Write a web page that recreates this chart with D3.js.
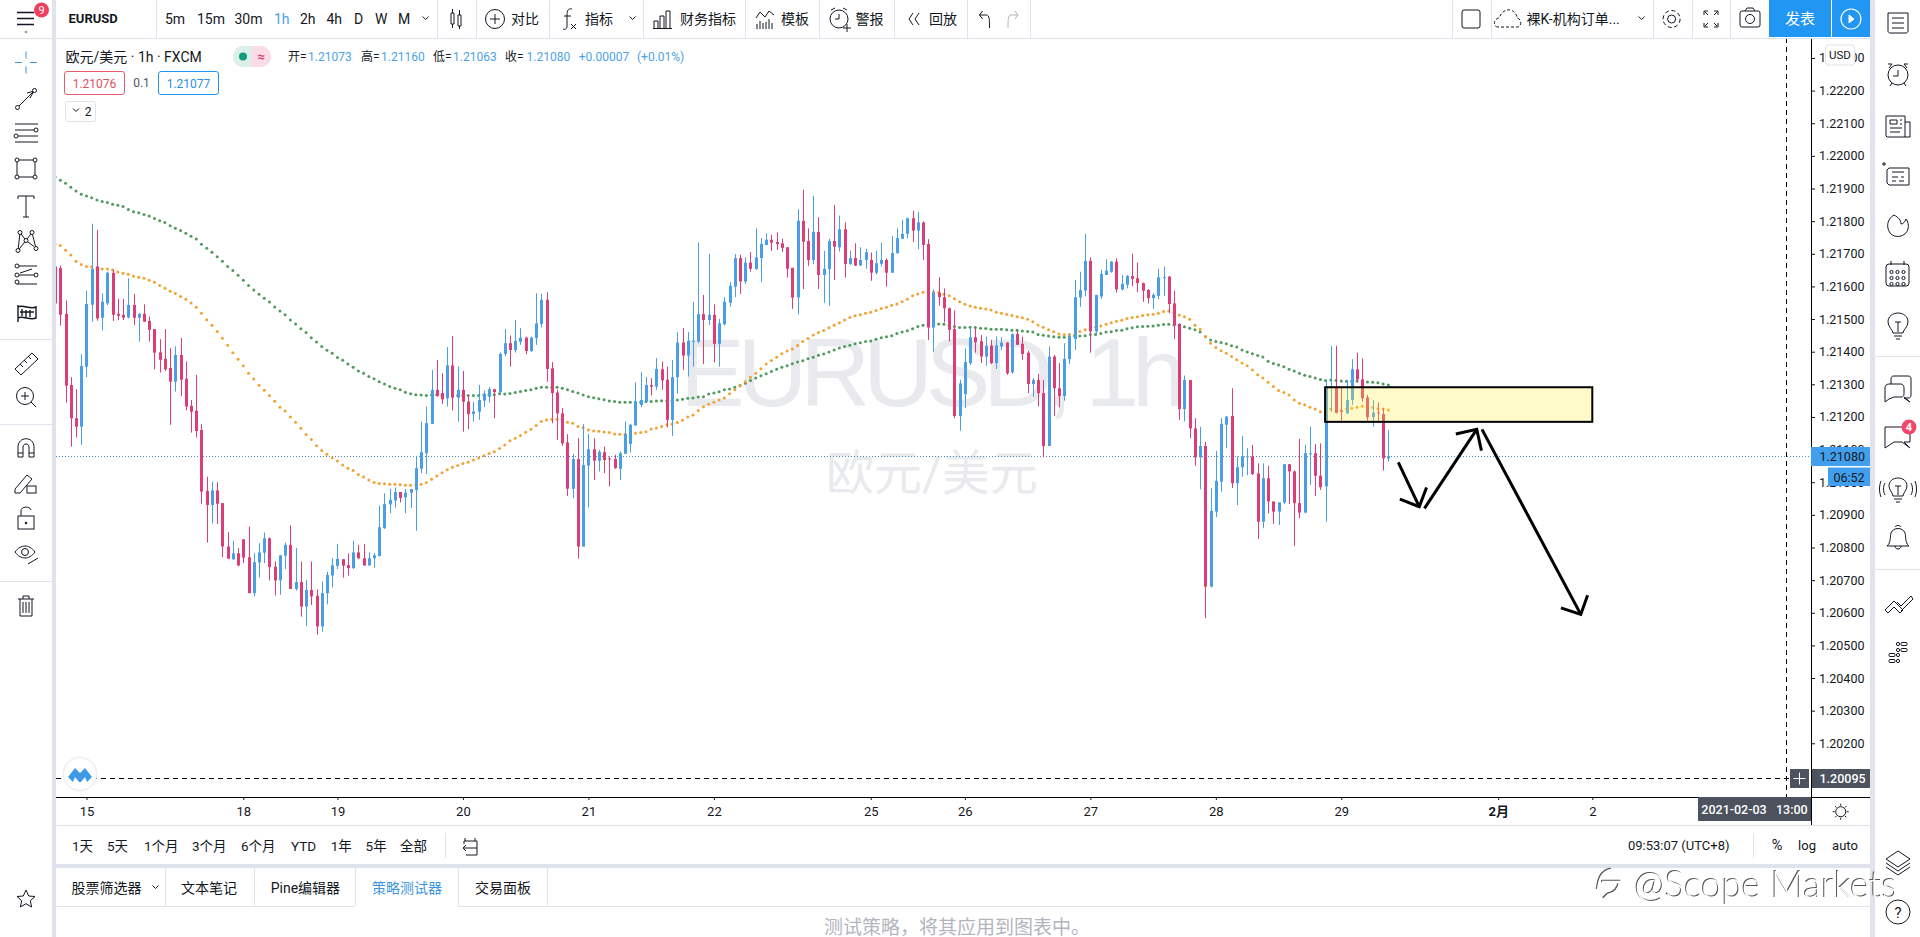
<!DOCTYPE html>
<html><head><meta charset="utf-8"><title>EURUSD</title>
<script src="https://cdnjs.cloudflare.com/ajax/libs/d3/7.8.5/d3.min.js"></script>
<style>html,body{margin:0;padding:0;background:#fff;overflow:hidden}svg{display:block}
text{font-family:Roboto,"Noto Sans CJK SC",sans-serif}</style></head><body><svg id="c" width="1920" height="937"></svg>
<script>
// ---- chart data, in 1e-5 price units, one value per hourly bar ----
const highs=[121666,121663,121557,121322,121285,121392,121587,121792,121773,121579,
121645,121651,121562,121562,121625,121577,121518,121545,121508,121469,
121438,121469,121411,121416,121442,121370,121252,121329,121178,121017,
121002,121000,120936,120847,120820,120798,120825,120864,120782,120813,
120846,120831,120757,120777,120815,120868,120798,120757,120701,120757,
120672,120696,120726,120767,120811,120765,120782,120820,120808,120811,
120785,120784,120928,120966,120980,120984,120970,120979,120979,121081,
121186,121232,121344,121375,121334,121414,121448,121354,121341,121268,
121247,121298,121281,121291,121286,121398,121469,121449,121497,121472,
121446,121446,121579,121577,121582,121368,121283,121227,121147,121087,
121135,121178,121148,121135,121099,121109,121079,121084,121094,121186,
121179,121306,121337,121322,121319,121380,121370,121354,121375,121460,
121472,121460,121552,121734,121574,121700,121545,121500,121567,121613,
121699,121697,121689,121705,121778,121748,121763,121758,121766,121746,
121720,121657,121836,121896,121778,121877,121812,121709,121746,121850,
121817,121796,121709,121732,121720,121715,121704,121709,121734,121686,
121755,121778,121804,121811,121832,121829,121799,121745,121591,121628,
121594,121535,121526,121314,121410,121477,121475,121451,121446,121436,
121446,121444,121429,121456,121465,121446,121403,121319,121332,121313,
121416,121390,121365,121426,121456,121620,121645,121761,121689,121574,
121651,121683,121678,121686,121635,121635,121700,121673,121612,121592,
121579,121654,121661,121632,121587,121487,121327,121313,121196,121170,
121124,120982,121096,121196,121203,121288,121079,121142,121104,121114,
121058,121058,121050,120941,120939,121055,121056,121036,121133,121114,
121170,121117,121119,121308,121418,121418,121293,121313,121377,121397,
121379,121267,121252,121244,121227,121160];
const lows=[121528,121480,121244,121109,121137,121114,121322,121492,121495,121465,
121543,121494,121497,121497,121502,121482,121431,121491,121431,121346,
121336,121341,121176,121278,121264,121220,121152,121137,120934,120815,
120874,120872,120770,120764,120762,120742,120752,120660,120650,120708,
120752,120699,120653,120655,120734,120672,120668,120588,120560,120624,
120533,120542,120626,120677,120734,120708,120714,120734,120764,120744,
120744,120738,120772,120857,120905,120922,120938,120905,120921,120851,
121028,121025,121178,121262,121240,121232,121220,121186,121155,121162,
121186,121191,121230,121244,121196,121268,121387,121354,121397,121421,
121392,121399,121421,121474,121308,121181,121130,121111,120958,120951,
120766,120803,120923,121007,121033,121028,120987,121041,121007,121087,
121091,121173,121230,121242,121266,121283,121283,121168,121142,121271,
121344,121324,121354,121426,121362,121482,121367,121354,121480,121538,
121567,121577,121608,121645,121651,121613,121726,121709,121712,121706,
121627,121531,121514,121592,121663,121668,121592,121550,121541,121620,
121707,121627,121666,121663,121663,121654,121617,121637,121661,121599,
121642,121700,121745,121747,121736,121714,121681,121436,121400,121541,
121490,121431,121196,121158,121227,121359,121397,121365,121357,121362,
121347,121405,121329,121332,121421,121375,121273,121262,121232,121076,
121111,121203,121230,121250,121362,121405,121538,121569,121397,121451,
121562,121635,121642,121581,121587,121594,121601,121582,121553,121548,
121531,121561,121571,121518,121438,121191,121186,121135,121050,120978,
120583,120678,120893,120971,121104,120982,120930,121017,121022,121022,
120826,120859,120905,120872,120869,120933,120933,120805,120890,120905,
120992,120958,120976,120879,121216,121211,121188,121209,121237,121305,
121247,121188,121170,121186,121036,121063];
const opens=[121661,121656,121516,121298,121196,121170,121354,121544,121661,121504,
121548,121642,121516,121513,121505,121543,121504,121516,121494,121469,
121398,121378,121350,121308,121390,121317,121234,121219,121160,120973,
120930,120975,120936,120803,120764,120782,120825,120770,120660,120754,
120784,120828,120741,120699,120775,120808,120673,120694,120619,120670,
120652,120558,120660,120714,120744,120764,120746,120737,120785,120767,
120745,120767,120774,120859,120932,120944,120970,120954,120968,120976,
121041,121089,121179,121283,121273,121257,121358,121259,121283,121247,
121209,121216,121250,121262,121285,121276,121393,121426,121405,121430,
121443,121402,121441,121485,121559,121349,121275,121211,121122,120980,
121071,120803,121051,121101,121066,121092,121073,121071,121041,121087,
121117,121174,121237,121247,121298,121293,121346,121314,121191,121322,
121428,121388,121430,121431,121515,121497,121513,121424,121484,121550,
121599,121687,121615,121673,121653,121687,121727,121743,121736,121732,
121720,121657,121566,121801,121739,121681,121767,121635,121653,121739,
121720,121775,121669,121687,121664,121681,121681,121642,121669,121681,
121642,121702,121746,121761,121809,121771,121796,121730,121474,121581,
121567,121533,121469,121203,121270,121365,121444,121432,121385,121419,
121365,121416,121428,121337,121454,121424,121397,121301,121313,121273,
121111,121385,121288,121264,121377,121439,121566,121587,121678,121462,
121569,121635,121645,121676,121591,121605,121632,121625,121610,121589,
121564,121571,121626,121630,121548,121485,121224,121313,121165,121076,
121111,120680,120910,121002,121176,121203,120997,121046,121076,121079,
121027,120879,121012,120941,120910,120938,121055,121033,120936,120907,
121087,121089,121020,120987,121290,121293,121219,121211,121252,121346,
121315,121260,121199,121214,121209,121073];
const closes=[121548,121513,121296,121196,121170,121356,121546,121654,121502,121553,
121642,121513,121510,121504,121543,121504,121516,121492,121467,121397,
121375,121346,121308,121390,121314,121232,121216,121157,120971,120930,
120975,120934,120803,120766,120782,120745,120769,120660,120755,120785,
120828,120740,120699,120776,120808,120673,120694,120619,120670,120650,
120558,120660,120716,120745,120765,120744,120737,120785,120767,120745,
120767,120776,120862,120933,120946,120970,120952,120968,120979,121043,
121092,121181,121283,121265,121254,121358,121259,121283,121247,121209,
121217,121252,121271,121285,121276,121393,121426,121405,121433,121443,
121402,121443,121487,121559,121347,121273,121211,121119,120980,121071,
120803,121053,121101,121066,121093,121068,121071,121043,121089,121148,
121176,121247,121252,121298,121293,121347,121312,121191,121322,121428,
121388,121433,121433,121515,121497,121513,121424,121487,121553,121602,
121687,121615,121673,121654,121689,121730,121743,121734,121730,121718,
121654,121566,121801,121737,121681,121767,121635,121654,121739,121722,
121775,121669,121687,121664,121681,121705,121642,121671,121681,121642,
121702,121748,121761,121809,121771,121796,121727,121474,121581,121567,
121533,121467,121203,121303,121368,121444,121429,121385,121418,121365,
121419,121428,121334,121454,121421,121393,121301,121313,121273,121111,
121385,121288,121264,121378,121444,121567,121589,121678,121462,121574,
121638,121648,121676,121591,121608,121632,121623,121610,121587,121564,
121574,121628,121628,121546,121480,121224,121313,121165,121076,121111,
120680,120912,121004,121179,121201,120997,121046,121079,121079,121025,
120879,121012,120941,120910,120938,121055,121033,120936,120907,121089,
121089,121020,120985,121293,121293,121213,121216,121252,121346,121315,
121257,121199,121213,121211,121073,121080];
const slowAverage=[121935,121925,121916,121904,121892,121882,121877,121872,121865,121860,
121857,121852,121849,121845,121836,121829,121826,121820,121816,121808,
121801,121796,121786,121778,121771,121763,121754,121745,121729,121717,
121705,121691,121677,121661,121649,121634,121619,121603,121589,121576,
121564,121552,121537,121525,121513,121497,121485,121470,121459,121443,
121430,121416,121404,121395,121382,121374,121362,121352,121341,121334,
121324,121317,121308,121301,121293,121288,121283,121276,121271,121268,
121267,121266,121267,121268,121266,121266,121267,121266,121266,121266,
121266,121266,121267,121268,121268,121271,121270,121272,121275,121278,
121281,121283,121288,121291,121291,121291,121291,121288,121283,121278,
121273,121267,121262,121259,121256,121253,121249,121247,121245,121245,
121245,121245,121245,121247,121247,121249,121250,121250,121250,121252,
121254,121257,121258,121261,121262,121270,121273,121277,121283,121286,
121291,121296,121303,121312,121319,121326,121332,121339,121346,121352,
121357,121363,121368,121372,121378,121383,121389,121393,121399,121405,
121411,121416,121420,121424,121427,121431,121433,121438,121443,121446,
121449,121456,121460,121464,121470,121477,121481,121484,121484,121485,
121484,121481,121477,121474,121474,121475,121474,121472,121471,121469,
121469,121469,121467,121466,121466,121463,121462,121460,121453,121450,
121448,121446,121444,121444,121446,121448,121448,121449,121453,121453,
121456,121460,121461,121465,121466,121470,121473,121476,121477,121478,
121479,121481,121483,121484,121482,121481,121476,121472,121467,121460,
121446,121436,121431,121428,121424,121418,121414,121405,121399,121394,
121388,121384,121371,121364,121359,121354,121346,121341,121334,121328,
121324,121319,121315,121312,121313,121312,121310,121309,121309,121310,
121308,121307,121306,121305,121301,121298];
const fastAverage=[121730,121725,121711,121696,121677,121667,121661,121660,121656,121653,
121653,121650,121644,121640,121637,121631,121628,121625,121619,121613,
121603,121594,121585,121578,121569,121561,121549,121536,121518,121498,
121481,121462,121441,121420,121397,121377,121357,121334,121316,121297,
121282,121266,121248,121230,121218,121200,121184,121165,121146,121131,
121112,121097,121086,121075,121065,121053,121043,121036,121024,121016,
121007,120999,120996,120995,120994,120994,120992,120991,120991,120992,
120994,120999,121009,121019,121029,121038,121046,121051,121057,121061,
121068,121074,121081,121088,121093,121103,121114,121127,121135,121143,
121153,121162,121174,121186,121191,121193,121193,121193,121184,121181,
121171,121167,121160,121157,121156,121154,121152,121148,121147,121147,
121148,121150,121152,121155,121163,121166,121171,121176,121178,121183,
121190,121200,121206,121220,121231,121239,121245,121252,121258,121271,
121283,121295,121308,121322,121334,121348,121362,121373,121383,121394,
121402,121408,121419,121431,121440,121451,121459,121465,121473,121481,
121489,121497,121505,121510,121513,121518,121521,121526,121532,121536,
121542,121546,121553,121561,121571,121577,121582,121584,121582,121581,
121576,121571,121562,121553,121545,121540,121536,121533,121531,121528,
121521,121518,121515,121511,121507,121504,121499,121492,121482,121475,
121467,121461,121454,121452,121453,121453,121462,121467,121472,121475,
121479,121484,121489,121493,121496,121502,121505,121507,121511,121513,
121515,121518,121523,121525,121521,121512,121507,121499,121481,121469,
121446,121426,121413,121403,121395,121385,121375,121365,121357,121344,
121329,121319,121306,121293,121281,121275,121267,121252,121242,121237,
121230,121224,121216,121211,121224,121216,121220,121224,121227,121230,
121233,121229,121229,121225,121224,121221];
const priceTicks=[1.223,1.222,1.221,1.22,1.219,1.218,1.217,1.216,1.215,1.214,1.213,1.212,1.211,1.21,1.209,1.208,1.207,1.206,1.205,1.204,1.203,1.202,1.201];
const dayTickBars=[6,36,54,78,102,126,156,174,198,222,246,276,294];
const dayTickLabels=["15","18","19","20","21","22","25","26","27","28","29","2月","2"];
const lastPrice=1.2108, cursorPrice=1.20095, cursorBar=331.0;
// drawn objects on the chart, as [bar, price]
const zoneBars=[242.9,294.0], zonePrices=[1.21291,1.21185];
const arrowPaths=[
 [[256.9,1.21061],[260.9,1.20925]],[[257.2,1.20948],[260.9,1.20925],[262.3,1.20984]],
 [[261.9,1.2092],[271.9,1.21162]],[[267.9,1.21148],[271.9,1.21162],[272.8,1.21097]],
 [[272.9,1.21162],[291.8,1.20595]],[[288.0,1.20615],[291.8,1.20595],[293.1,1.20654]]];

// ---- scales ----
const x=d3.scaleLinear().domain([0,335.83]).range([55.1,1811]);
const y=d3.scaleLinear().domain([1.223,1.201]).range([57.96,775.93]);
const p=v=>y(v/1e5);
const UP="#4a9ee6",DOWN="#dc3d78",INK="#131722",RULE="#e0e3eb";

const svg=d3.select("#c");
const defs=svg.append("defs");
defs.append("clipPath").attr("id","pane").append("rect").attr("x",56).attr("y",38).attr("width",1755).attr("height",759);
function T(g,xp,yp,s,o={}){return g.append("text").attr("x",xp).attr("y",yp).attr("dominant-baseline","central")
  .attr("text-anchor",o.a||"start").attr("font-size",o.s||14).attr("font-weight",o.w||400).attr("fill",o.c||INK).text(s);}
function L(g,a,b,c,d,col=RULE,w=1){return g.append("line").attr("x1",a).attr("y1",b).attr("x2",c).attr("y2",d).attr("stroke",col).attr("stroke-width",w);}
function I(g,xp,yp,d,o={}){return g.append("path").attr("transform",`translate(${xp},${yp})`).attr("d",d)
  .attr("fill",o.f||"none").attr("stroke",o.c||INK).attr("stroke-width",o.w||1);}

// ---- chart pane ----
const pane=svg.append("g").attr("clip-path","url(#pane)");
T(pane,680,372,"EURUSD, 1h",{s:97,c:"#e9eaee"}).attr("textLength",506).style("font-family","Liberation Sans");
T(pane,826,473,"欧元/美元",{s:48,c:"#e9eaee"});
const lastY=Math.round(y(lastPrice))+.5;
pane.append("line").attr("x1",56).attr("x2",1811).attr("y1",lastY).attr("y2",lastY).attr("stroke","#4a8fc0").attr("stroke-dasharray","1 2");

// moving averages as dots, below the candles
[[slowAverage,"#4f9a5c"],[fastAverage,"#f2a232"]].forEach(([arr,col])=>{
  pane.append("g").selectAll("circle").data(arr).join("circle")
    .attr("cx",(d,i)=>x(i)).attr("cy",d=>p(d)).attr("r",1.5).attr("fill",col);
});
// candles
const candles=pane.append("g").selectAll("g").data(d3.range(opens.length)).join("g")
  .attr("fill",i=>closes[i]>=opens[i]?UP:DOWN);
candles.append("rect").attr("x",i=>Math.round(x(i))).attr("width",1)
  .attr("y",i=>p(highs[i])).attr("height",i=>p(lows[i])-p(highs[i]));
candles.append("rect").attr("x",i=>Math.round(x(i))-1).attr("width",3)
  .attr("y",i=>p(Math.max(opens[i],closes[i])))
  .attr("height",i=>Math.max(1,Math.abs(p(opens[i])-p(closes[i]))));

// yellow zone + hand-drawn arrows
pane.append("rect").attr("x",x(zoneBars[0])).attr("y",y(zonePrices[0]))
  .attr("width",x(zoneBars[1])-x(zoneBars[0])).attr("height",y(zonePrices[1])-y(zonePrices[0]))
  .attr("fill","#ffee3c").attr("fill-opacity",.28).attr("stroke","#000").attr("stroke-width",2);
const arrowLine=d3.line().x(d=>x(d[0])).y(d=>y(d[1]));
pane.append("g").selectAll("path").data(arrowPaths).join("path").attr("d",arrowLine)
  .attr("fill","none").attr("stroke","#000").attr("stroke-width",3);

// crosshair
const cx=Math.round(x(cursorBar))+.5, cy=Math.round(y(cursorPrice))+.5;
L(pane,cx,38,cx,797,"#000",1).attr("stroke-dasharray","5 4");
L(pane,56,cy,1790,cy,"#000",1).attr("stroke-dasharray","5 4");

// TV logo
const logo=svg.append("g").attr("transform","translate(80,774)");
logo.append("circle").attr("r",16.5).attr("fill","#fff").attr("stroke","#eceef2").attr("stroke-width",1.5);
logo.append("path").attr("d","M-12 3L-5 -6L0 -1L5 -6L12 3L7 8L5 3L1 8H-1L-5 3L-7 8Z").attr("fill","#3f9be6");

// ---- axes ----
const yAxis=svg.append("g").attr("transform","translate(1811,0)")
  .call(d3.axisRight(y).tickValues(priceTicks).tickFormat(d3.format(".5f")).tickSize(4).tickPadding(4));
yAxis.select(".domain").remove();
yAxis.selectAll("text").attr("font-size",12.5).attr("fill",INK).style("font-family","Roboto");
yAxis.selectAll("line").attr("stroke",INK);
const xAxis=svg.append("g").attr("transform","translate(0,797)")
  .call(d3.axisBottom(x).tickValues(dayTickBars).tickFormat((d,i)=>dayTickLabels[i]).tickSize(3).tickPadding(7));
xAxis.select(".domain").remove();
xAxis.selectAll("text").attr("font-size",13).attr("fill",INK).attr("font-weight",(d,i)=>dayTickLabels[i]==="2月"?700:400).style("font-family","Roboto,'Noto Sans CJK SC'");
xAxis.selectAll("line").attr("stroke",INK);
L(svg,56,797.5,1870,797.5,"#000",1);
L(svg,1811.5,38,1811.5,825,"#000",1);

// price / time tags
svg.append("rect").attr("x",1811).attr("y",447).attr("width",59).attr("height",19).attr("fill","#429fed");
T(svg,1819.5,456.5,d3.format(".5f")(lastPrice),{s:12.5,c:"#131722"});
svg.append("rect").attr("x",1828).attr("y",467.5).attr("width",42).attr("height",18.5).attr("fill","#429fed");
T(svg,1849,477,"06:52",{s:12.5,c:"#131722",a:"middle"});
svg.append("rect").attr("x",1825.5).attr("y",45).attr("width",29).attr("height",20).attr("rx",3).attr("fill","#fff").attr("stroke","#e0e3eb");
T(svg,1840,55,"USD",{s:11.5,a:"middle"});
svg.append("rect").attr("x",1812).attr("y",769).attr("width",58).attr("height",19).attr("fill","#4c525e");
T(svg,1819.5,778.5,d3.format(".5f")(cursorPrice),{s:12.5,c:"#fff",w:500});
svg.append("rect").attr("x",1790).attr("y",769).attr("width",19).attr("height",19).attr("fill","#4c525e");
I(svg,1799.5,778.5,"M-6 0H6M0 -6V6",{c:"#fff"});
svg.append("rect").attr("x",1698).attr("y",797).attr("width",113).attr("height",24).attr("fill","#4c525e");
T(svg,1754.5,809,"2021-02-03   13:00",{s:12.5,c:"#fff",w:500,a:"middle"}).attr("xml:space","preserve");

// ---- frame ----
const f=svg.append("g");
f.append("rect").attr("x",52).attr("y",0).attr("width",4).attr("height",937).attr("fill",RULE);
f.append("rect").attr("x",1870).attr("y",0).attr("width",5).attr("height",937).attr("fill",RULE);
f.append("rect").attr("x",56).attr("y",864).attr("width",1814).attr("height",4).attr("fill",RULE);
L(f,0,38.5,52,38.5); L(f,56,38.5,1870,38.5); L(f,56,825.5,1870,825.5); L(f,56,906.5,1870,906.5);
[156,437,476,549,643,745,819,894,967,1030,1452,1491,1653,1692,1730].forEach(v=>L(f,v+.5,0,v+.5,38));
[[1753,833,858],[445,833,858],[165,868,906],[254,868,906],[355,868,906],[458,868,906],[547,868,906]].forEach(d=>L(f,d[0]+.5,d[1],d[0]+.5,d[2]));
[339,424,581].forEach(v=>L(f,0,v+.5,52,v+.5)); [356,569].forEach(v=>L(f,1875,v+.5,1920,v+.5));

// top toolbar
const tb=svg.append("g");
T(tb,68.5,18.5,"EURUSD",{s:13,w:700});
[[165,"5m"],[197,"15m"],[234.5,"30m"],[274,"1h","#4a9ee6"],[300,"2h"],[326.4,"4h"],[354,"D"],[375,"W"],[398,"M"],
 [511,"对比"],[585,"指标"],[680,"财务指标"],[781,"模板"],[855.5,"警报"],[929,"回放"]]
 .forEach(d=>T(tb,d[0],19,d[1],{c:d[2]||INK}));
T(tb,1526.5,19,"裸K-机构订单...",{s:14});
const chev="M-3 -1.5L0 1.5L3 -1.5";
[425.6,632.6,1641.6].forEach(v=>I(tb,v,18,chev));
I(tb,456,19,"M-5 -6H-2V5H-5ZM-3.5 -10V-6M-3.5 5V9M2 -4H5V7H2ZM3.5 -9V-4M3.5 7V10");
tb.append("circle").attr("cx",495).attr("cy",19).attr("r",9.5).attr("fill","none").attr("stroke",INK);
I(tb,495,19,"M-5 0H5M0 -5V5");
I(tb,568,19,"M4 -10C0 -11 -1 -8 -1 -4V7C-1 10 -3 11 -5 10M-4 -3H3M3 5L8 10M8 5L3 10");
I(tb,663,19,"M-9 9V2H-5V9M-3 9V-3H1V9M3 9V-8H7V9M-10 9.5H9");
I(tb,765,20,"M-9 -2L-5 -8L0 -3L4 -9L9 -5M-8 9V4M-5 9V1M-2 9V3M1 9V2M4 9V-1M7 9V3");
tb.append("circle").attr("cx",839).attr("cy",19).attr("r",9).attr("fill","none").attr("stroke",INK);
I(tb,839,19,"M0 -5V0H-4M-8 -9L-4 -11M8 -9L4 -11M4 9H12M8 5V13",{});
I(tb,914,19,"M-1 -6L-5 0L-1 6M5 -6L1 0L5 6");
I(tb,984.5,19,"M-5 -4H2C5 -4 5 1 5 9M-5 -4L-2 -8M-5 -4L-2 0");
I(tb,1013,19,"M5 -4H-2C-5 -4 -5 1 -5 9M5 -4L2 -8M5 -4L2 0",{c:"#b2b5be"});
tb.append("rect").attr("x",1462).attr("y",10).attr("width",18).attr("height",18).attr("rx",2).attr("fill","none").attr("stroke",INK);
I(tb,1509,19,"M-11 8C-16 8 -16 0 -10 -1C-8 -6 -4 -10 1 -9C6 -8 8 -4 8 -1C13 0 13 8 8 8Z").attr("stroke-dasharray","3 2");
tb.append("circle").attr("cx",1671.6).attr("cy",19).attr("r",4).attr("fill","none").attr("stroke",INK);
tb.append("circle").attr("cx",1671.6).attr("cy",19).attr("r",8.5).attr("fill","none").attr("stroke",INK).attr("stroke-dasharray","4 2.6");
I(tb,1711,19,"M-7 -4V-8H-3M3 -8H7V-4M7 4V8H3M-3 8H-7V4M-6 -7L-3 -4M6 -7L3 -4M-6 7L-3 4M6 7L3 4");
tb.append("rect").attr("x",1740).attr("y",11).attr("width",20).attr("height",16).attr("rx",2).attr("fill","none").attr("stroke",INK);
tb.append("circle").attr("cx",1750).attr("cy",19).attr("r",4.5).attr("fill","none").attr("stroke",INK);
I(tb,1750,11,"M-5 0L-3 -3H3L5 0");
tb.append("rect").attr("x",1769).attr("y",0).attr("width",101).attr("height",37).attr("fill","#2196f3");
L(tb,1831.5,0,1831.5,37,"#fff",1);
T(tb,1800,19,"发表",{s:15,c:"#fff",a:"middle"});
tb.append("circle").attr("cx",1851).attr("cy",19).attr("r",10).attr("fill","none").attr("stroke","#fff").attr("stroke-width",1.2);
I(tb,1851,19,"M-2 -4L3 0L-2 4Z",{f:"#fff",c:"#fff"});

// legend
const lg=svg.append("g");
T(lg,65.5,57,"欧元/美元 · 1h · FXCM",{s:14});
lg.append("rect").attr("x",233).attr("y",46).attr("width",38).attr("height",21).attr("rx",10).attr("fill","#fbdbe6");
lg.append("path").attr("d","M252 46H243A10 10.500 0 0 0 243 67H252Z").attr("fill","#dcefeb");
lg.append("circle").attr("cx",243).attr("cy",56.5).attr("r",4).attr("fill","#0f9d7a");
T(lg,261,56.5,"≈",{s:13,w:700,c:"#e0407a",a:"middle"});
const blue="#4da3e8";
[[288,"开="],[361,"高="],[433,"低="],[505,"收="]].forEach(d=>T(lg,d[0],57,d[1],{s:12}));
[[308,"1.21073"],[381,"1.21160"],[453,"1.21063"],[526.6,"1.21080"],[578.7,"+0.00007"],[637,"(+0.01%)"]].forEach(d=>T(lg,d[0],57,d[1],{s:12,c:blue}));
lg.append("rect").attr("x",64.5).attr("y",71.5).attr("width",60).attr("height",23).attr("rx",2.5).attr("fill","#fff").attr("stroke","#ea5a6a");
T(lg,94.5,83.5,"1.21076",{s:12,c:"#e0505f",a:"middle"});
T(lg,141.5,83,"0.1",{s:12,c:"#50535e",a:"middle"});
lg.append("rect").attr("x",158.5).attr("y",71.5).attr("width",60).attr("height",23).attr("rx",2.5).attr("fill","#fff").attr("stroke","#2196f3");
T(lg,188.5,83.5,"1.21077",{s:12,c:"#2b8fe0",a:"middle"});
lg.append("rect").attr("x",65.5).attr("y",101.5).attr("width",30).attr("height",20).attr("rx",2).attr("fill","#fff").attr("stroke","#e0e3eb");
I(lg,76,110,chev); T(lg,88,111.5,"2",{s:12,a:"middle"});

// range row and tabs
const rr=svg.append("g");
[[72,"1天"],[107,"5天"],[144,"1个月"],[192,"3个月"],[241,"6个月"],[291,"YTD"],[330.7,"1年"],[365.6,"5年"],[400,"全部"]].forEach(d=>T(rr,d[0],846,d[1],{s:13.5}));
I(rr,470,846,"M-5 -8V-5M5 -8V-5M-6 -5H7M7 -5V9H-4M7 2H-7M-4 -1L-7 2L-4 5M-6 -5V-2");
T(rr,1628,845,"09:53:07 (UTC+8)",{s:13});
T(rr,1777,845,"%",{s:14.5,a:"middle"}); T(rr,1807,845,"log",{s:13,a:"middle"}); T(rr,1845,845,"auto",{s:13,a:"middle"});
[[71.6,"股票筛选器"],[181,"文本笔记"],[270.7,"Pine编辑器"],[372,"策略测试器","#3c95e0"],[475,"交易面板"]].forEach(d=>T(rr,d[0],888,d[1],{s:14,c:d[2]||INK}));
I(rr,155.5,887,chev);
L(rr,355,906.5,458,906.5,"#fff",2);
T(rr,824,927,"测试策略，将其应用到图表中。",{s:19,c:"#b2b5be"});
rr.append("circle").attr("cx",1840.7).attr("cy",811.7).attr("r",5).attr("fill","none").attr("stroke",INK);
I(rr,1840.7,811.7,"M0 -8V-6M0 6V8M-8 0H-6M6 0H8M-5.6 -5.6L-4.2 -4.2M5.6 -5.6L4.2 -4.2M-5.6 5.6L-4.2 4.2M5.6 5.6L4.2 4.2");

// left toolbar
const lt=svg.append("g");
I(lt,26,18.5,"M-9 -6H8M-9 0H8M-9 6H8",{w:1.6});
lt.append("circle").attr("cx",26).attr("cy",32).attr("r",1.3).attr("fill","#9598a1");
lt.append("circle").attr("cx",41.5).attr("cy",10).attr("r",7.5).attr("fill","#f23e5c");
T(lt,41.5,10.5,"9",{s:11,c:"#fff",a:"middle"});
const ring=(g,a,b,r=2)=>g.append("circle").attr("cx",a).attr("cy",b).attr("r",r).attr("fill","#fff").attr("stroke",INK);
I(lt,26,62.5,"M-11 0H-4M4 0H11M0 -11V-4M0 4V11",{c:"#3a93d6"});
I(lt,26,99,"M-8 8L8 -8M8 -8L1 -6M8 -8L4 -1",{}); ring(lt,17.5,107.5); ring(lt,34.5,90.5);
I(lt,26,133,"M-11 -9H12M-11 -3H12M-11 3H12M-11 9H12"); ring(lt,36,130); ring(lt,16,136);
lt.append("rect").attr("x",17).attr("y",160).attr("width",18).attr("height",17).attr("fill","none").attr("stroke",INK);
[[17,160],[35,160],[17,177],[35,177]].forEach(d=>ring(lt,d[0],d[1]));
I(lt,26,206,"M-8 -7V-10H8V-7M0 -10V11M-3 11H3");
I(lt,26,240.5,"M-8 10L-6 -8L0 0L6 -8L10 8M-8 10L0 0L8 6");[[-8,10],[-6,-8],[0,0],[6,-8],[10,8]].forEach(d=>ring(lt,26+d[0],240.5+d[1]));
I(lt,26,275,"M-9 -9H11M-9 0H11M-9 9H11M-6 -2L6 -6"); [[17,266],[36,275],[17,275],[17,282]].forEach(d=>ring(lt,d[0],d[1]));
I(lt,26,313,"M-8 -6C-3 -9 4 -3 10 -6V5C4 8 -3 2 -8 5ZM-8 -8V9M-4 -4V3M0 -3V4M4 -3V4M-6 -1H8",{w:1.4});
I(lt,26,363,"M-11 6L6 -10L12 -4L-5 12ZM-6 1L-3 4M-2 -3L1 0M2 -7L5 -4");
lt.append("circle").attr("cx",25).attr("cy",396).attr("r",8.5).attr("fill","none").attr("stroke",INK);
I(lt,25,396,"M-4 0H4M0 -4V4M6 6L11 11");
I(lt,26,449,"M-8 8V-2C-8 -13 8 -13 8 -2V8H3V-2C3 -6 -3 -6 -3 -2V8ZM-8 4H-3M3 4H8");
I(lt,24,483,"M-9 6L3 -8L8 -4L-4 10L-9 10Z"); lt.append("rect").attr("x",27).attr("y",486).attr("width",9).attr("height",7).attr("fill","#fff").attr("stroke",INK);
lt.append("rect").attr("x",18).attr("y",516).attr("width",16).attr("height",13).attr("fill","none").attr("stroke",INK);
I(lt,26,516,"M-5 0V-5C-5 -10 4 -10 5 -6");
lt.append("circle").attr("cx",26).attr("cy",523).attr("r",1.2).attr("fill",INK);
I(lt,25,552,"M-10 0C-4 -8 4 -8 10 0C4 8 -4 8 -10 0Z"); lt.append("circle").attr("cx",25).attr("cy",552).attr("r",3.5).attr("fill","none").attr("stroke",INK);
I(lt,33,561,"M-5 3L5 -3");
I(lt,26,606,"M-8 -7H8M-3 -7V-10H3V-7M-6 -7V10H6V-7M-3 -4V7M0 -4V7M3 -4V7");
I(lt,26,899,"M0 -9L2.7 -3L9 -2.5L4.300 1.700L5.600 8L0 4.700L-5.600 8L-4.300 1.700L-9 -2.500L-2.700 -3Z");

// right toolbar
const rt=svg.append("g"), rx=1898;
I(rt,rx,22,"M-10 -9H10V9C10 10 9 11 8 11H-8C-9 11 -10 10 -10 9ZM-6 -4H6M-6 1H6M-6 6H6");
rt.append("circle").attr("cx",rx).attr("cy",75).attr("r",10).attr("fill","none").attr("stroke",INK);
I(rt,rx,75,"M0 -5V1H-5M-9 -7L-6 -11L-10 -11M9 -7L6 -11L10 -11M-6 8L-8 11M6 8L8 11");
I(rt,rx,126,"M-12 -10H7V11H-11L-12 10ZM7 -4H12V11H7M-8 -6H-1V-2H-8ZM2 -6H4M2 -2H4M-8 2H4M-8 6H2");
I(rt,rx,175,"M-11 -5V8L-9 10H11V-7H-9ZM-6 -3H6M-6 2H0M3 2H6M-6 6H-2M1 6H6M-16 -11H-12M-14 -13V-9",{});
I(rt,rx,226,"M-4 -11C-11 -7 -12 1 -8 7C-3 13 8 11 10 3C11 0 10 -5 8 -7C7 -4 5 -2 3 -2C3 -6 0 -9 -4 -11Z");
rt.append("rect").attr("x",rx-12).attr("y",264).attr("width",23).attr("height",22).attr("rx",3).attr("fill","none").attr("stroke",INK);
I(rt,rx,274,"M-7 -13V-9M6 -13V-9");
[-1,1,3].forEach(r=>[-6,0,6].forEach(c=>rt.append("circle").attr("cx",rx+c-.5).attr("cy",275+r*3).attr("r",1.6).attr("fill","none").attr("stroke",INK)));
I(rt,rx,326,"M-5 7C-5 4 -10 1 -10 -4C-10 -10 -5 -13 0 -13C5 -13 10 -10 10 -4C10 1 5 4 5 7ZM-4 10H4M-2 13H2M-3 -4H3M0 -4V6");
I(rt,rx,389,"M-13 -1C-13 -3 -12 -5 -9 -5H3C5 -5 6 -3 6 -1V5C6 7 5 8 3 8H-4L-9 10L-13 13ZM-7 -5V-10C-7 -12 -6 -13 -4 -13H10C12 -13 13 -12 13 -10V6C13 8 12 9 10 9H6L12 13L6 8");
I(rt,rx,436,"M-13 -9H12V6H6L12 12L4 6H-4L-13 12Z");
rt.append("circle").attr("cx",1909).attr("cy",427).attr("r",7.5).attr("fill","#f0476a");
T(rt,1909,427.5,"4",{s:11,c:"#fff",w:700,a:"middle"});
I(rt,rx,489,"M-5 7C-5 4 -9 1 -9 -3C-9 -8 -5 -11 0 -11C5 -11 9 -8 9 -3C9 1 5 4 5 7ZM-4 10H4M-2 13H2M-3 -3H3M0 -3V6M-13 -6C-15 -2 -15 2 -13 6M13 -6C15 -2 15 2 13 6M-17 -8C-19 -3 -19 3 -17 8M17 -8C19 -3 19 3 17 8");
I(rt,rx,539,"M-11 7C-7 4 -8 -3 -7 -6C-5 -12 5 -12 7 -6C8 -3 7 4 11 7ZM-3 -12C-2 -14 2 -14 3 -12M-3 7C-3 11 3 11 3 7");
I(rt,rx,606,"M-13 4L-4 -5L5 4L2 7L-4 1L-10 7ZM-1 -4L3 0L13 -10L15 -7L3 5");
[[6,-11,6,3],[6,-5,6,3],[-6,0,6,3],[-6,6,6,3]].forEach(d=>rt.append("rect").attr("x",rx+d[0]-3).attr("y",655+d[1]-1.5).attr("width",d[2]).attr("height",d[3]).attr("fill","none").attr("stroke",INK).attr("rx",1));
[[0,-11],[0,-5],[0,0],[0,6]].forEach(d=>rt.append("circle").attr("cx",rx+d[0]).attr("cy",655+d[1]).attr("r",1.6).attr("fill","none").attr("stroke",INK));
I(rt,rx,861,"M-12 -2L0 -10L12 -2L0 6ZM-12 2L0 10L12 2M-12 6L0 14L12 6");
rt.append("circle").attr("cx",rx).attr("cy",912).attr("r",12).attr("fill","none").attr("stroke",INK);
T(rt,rx,912.5,"?",{s:15,a:"middle"});

// site watermark
const wm=svg.append("g").style("filter","drop-shadow(-0.7px -0.7px 0 #555)");
wm.append("path").attr("transform","translate(1608,884)").attr("d","M-10 6C-9 -3 -7 -12 3 -14L5 -12M-6 -2H12C11 6 6 10 0 11L-4 15")
  .attr("fill","none").attr("stroke","#fff").attr("stroke-width",2.4);
T(wm,1634.5,883,"@Scope Markets",{s:37,c:"#fff"}).attr("textLength",263).style("font-family","Lato").attr("font-weight",300);
</script></body></html>
